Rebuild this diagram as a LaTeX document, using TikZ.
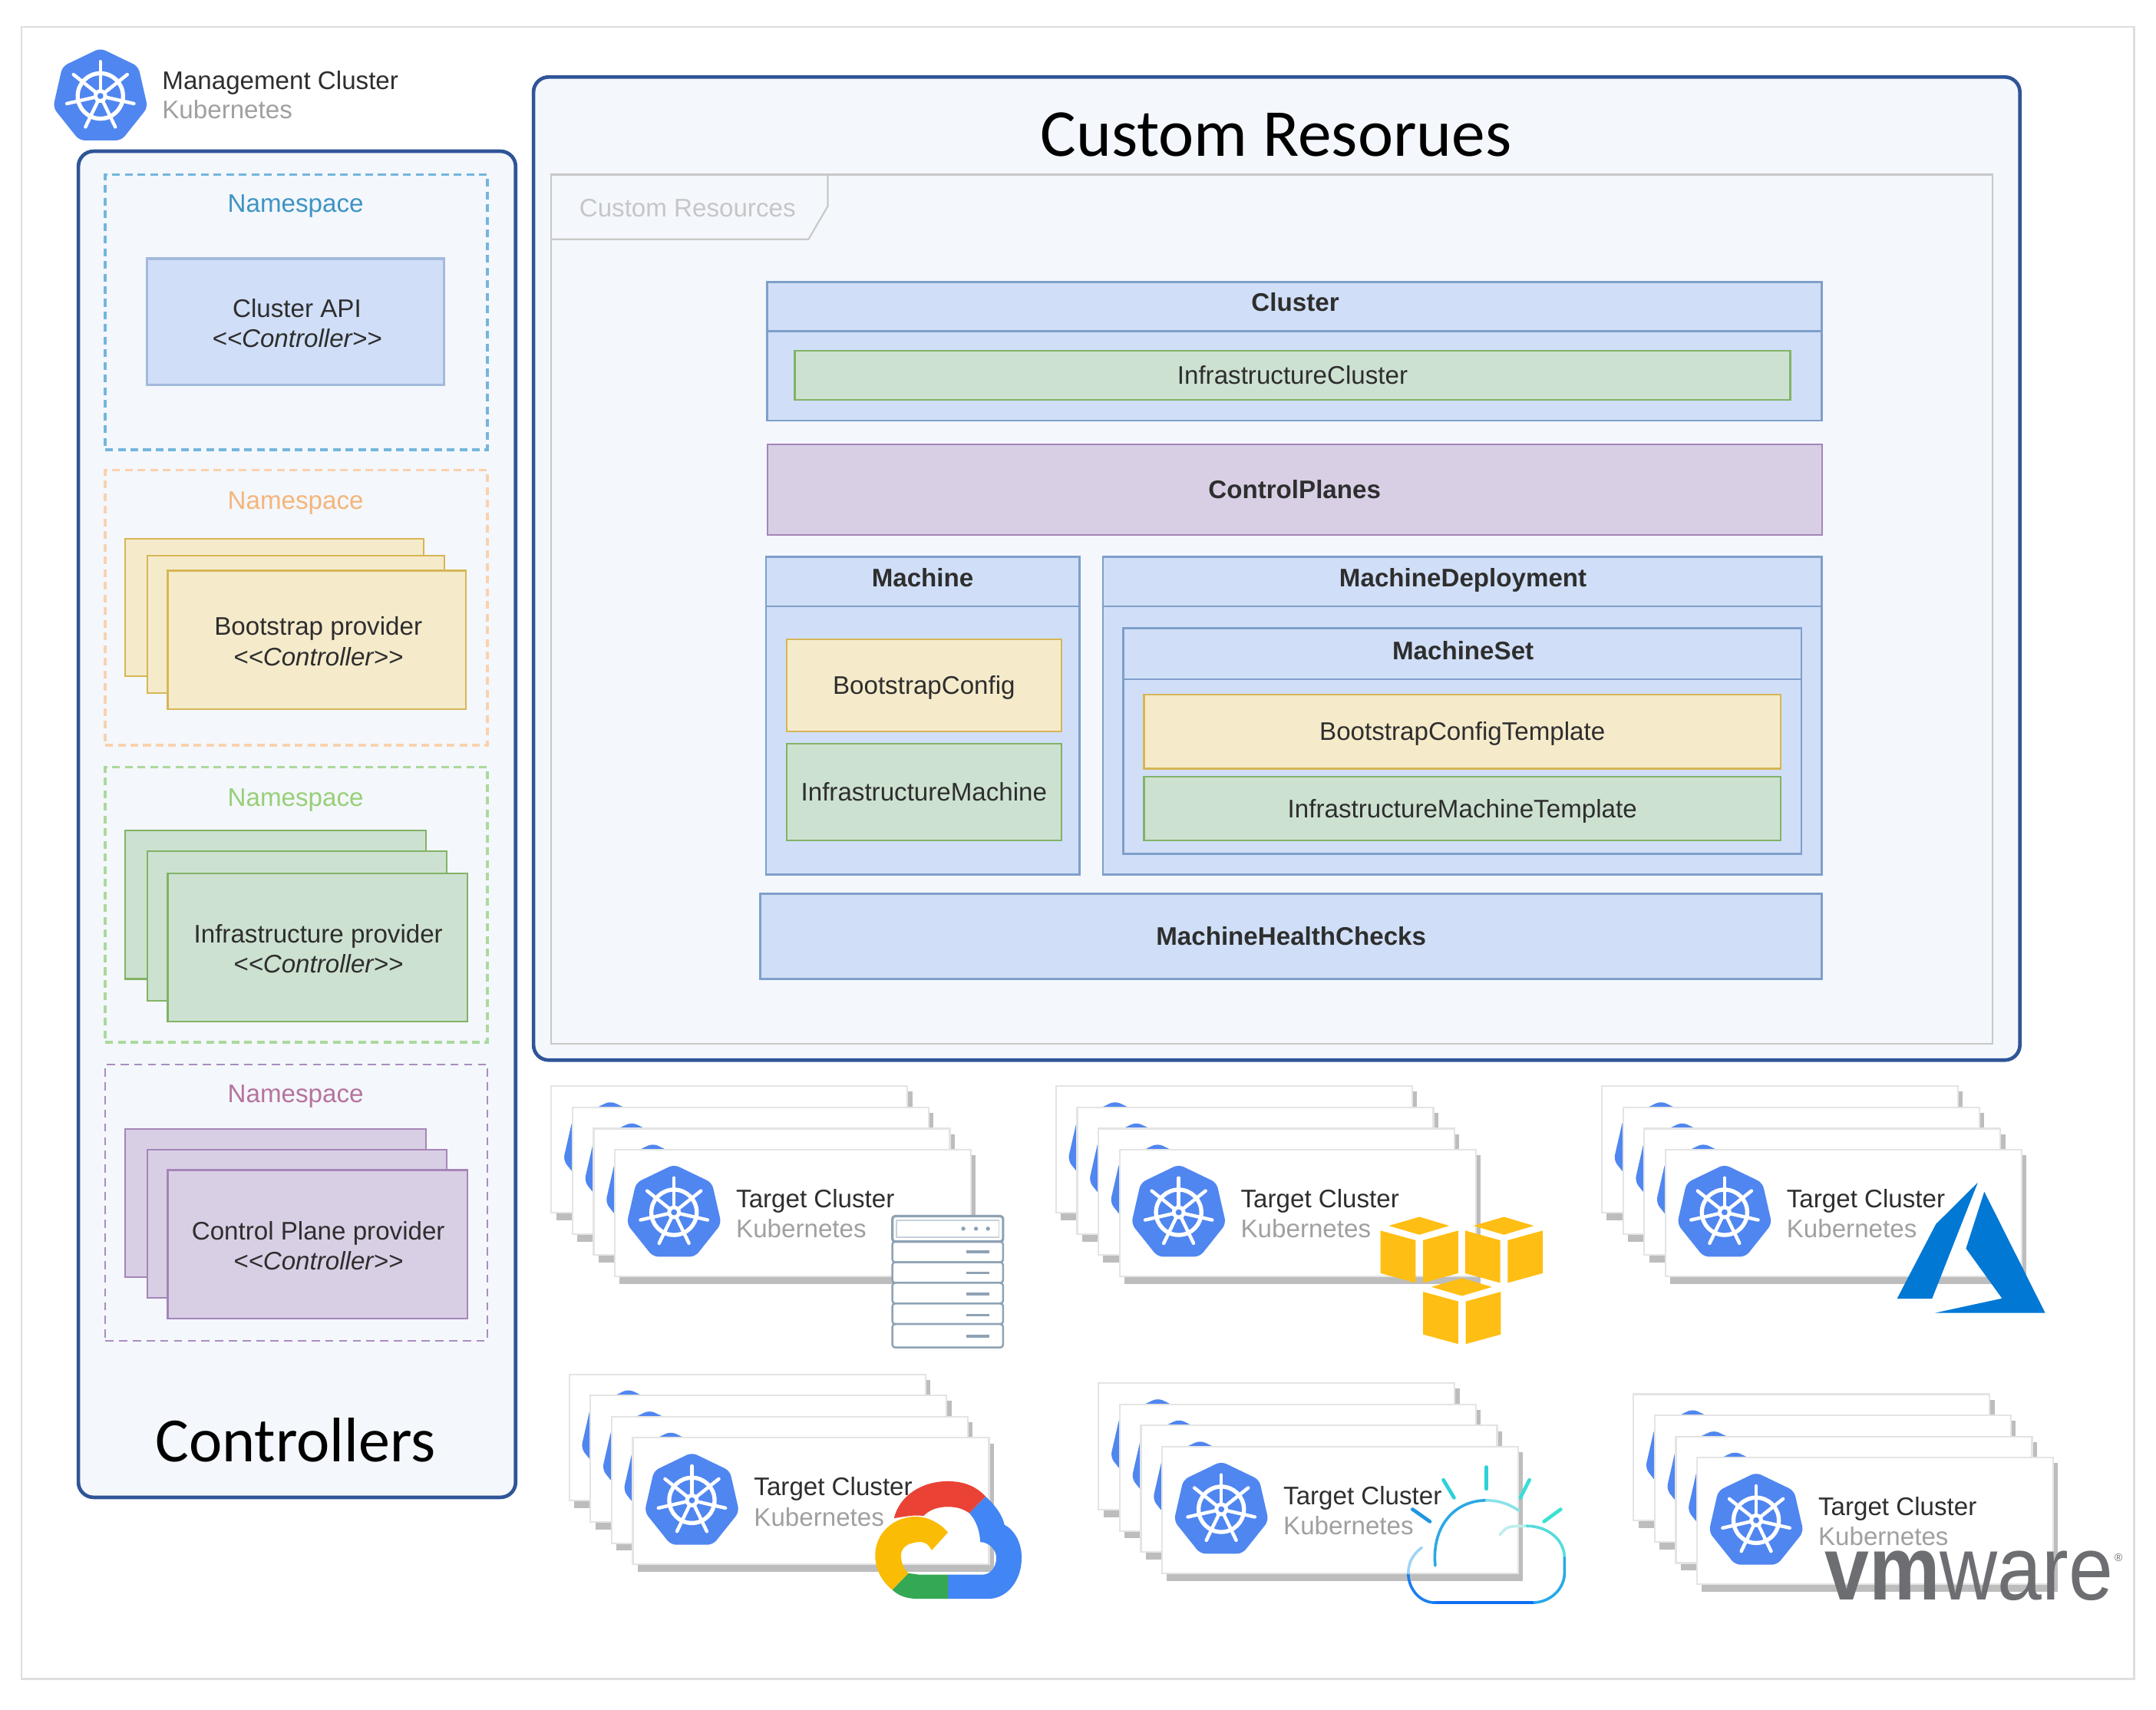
\documentclass[tikz,border=0pt]{standalone}
\usepackage{fontspec}
\setmainfont{Liberation Sans}
\newfontfamily\calfont{Carlito}
\definecolor{frameGrey}{HTML}{DEDEDE}
\definecolor{navy}{HTML}{2F5597}
\definecolor{paneFill}{HTML}{F4F7FC}
\definecolor{blueFill}{HTML}{D0DFF7}
\definecolor{blueLine}{HTML}{7F9FCB}
\definecolor{blueSoft}{HTML}{A3BADC}
\definecolor{yelFill}{HTML}{F5EBCB}
\definecolor{yelLine}{HTML}{D6B656}
\definecolor{grnFill}{HTML}{CDE1D0}
\definecolor{grnLine}{HTML}{82B366}
\definecolor{purFill}{HTML}{D9CFE5}
\definecolor{purLine}{HTML}{A585B8}
\definecolor{txt}{HTML}{2E2E2E}
\definecolor{kubeGrey}{HTML}{A0A0A0}
\definecolor{kubeBlue}{HTML}{5086F0}
\definecolor{shadowGrey}{HTML}{BDBDBD}
\definecolor{cardLine}{HTML}{E4E4E4}
\definecolor{rackLine}{HTML}{8EA2B4}
\definecolor{awsGold}{HTML}{FFBE13}
\definecolor{azureBlue}{HTML}{0078D4}
\definecolor{gRed}{HTML}{EA4335}
\definecolor{gBlue}{HTML}{4285F4}
\definecolor{gYellow}{HTML}{FBBC05}
\definecolor{gGreen}{HTML}{34A853}
\definecolor{vmGrey}{HTML}{6D6E71}
\definecolor{nsAline}{HTML}{74B6DC}
\definecolor{nsAtext}{HTML}{3D94C4}
\definecolor{nsBline}{HTML}{F9D2AE}
\definecolor{nsBtext}{HTML}{F5B57A}
\definecolor{nsCline}{HTML}{ABD99C}
\definecolor{nsCtext}{HTML}{97D077}
\definecolor{nsDline}{HTML}{A98DC0}
\definecolor{nsDtext}{HTML}{B5739D}
\newcommand\bx[7]{%
  \pgfmathsetmacro\bw{(#4-#2)*0.5}\pgfmathsetmacro\bh{(#5-#3)*0.5}%
  \node[#6,anchor=north west,minimum width=\bw pt,minimum height=\bh pt,inner sep=0pt,outer sep=0pt,text height=6.6pt,text depth=0pt] (#1) at (#2,#3) {#7};}
\newcommand\ctl[1]{#1\\\textit{<{}<Controller>{}>}}
\newcommand\clusterstack[3]{% name, x, y of the rearmost card
  \foreach \cardi in {0,1,2,3}{%
    \pgfmathsetmacro\cx{#2+15.4*\cardi}\pgfmathsetmacro\cy{#3+15.4*\cardi}%
    \fill[shadowGrey] (\cx+3.5,\cy+4) rectangle (\cx+262.5,\cy+97.5);
    \draw[cardbox] (\cx,\cy) rectangle (\cx+259,\cy+92);
    \pic at (\cx+43,\cy+46) {k8slogo};
  }
  \pgfmathsetmacro\tx{#2+46.2+88.2}\pgfmathsetmacro\tya{#3+46.2+42}\pgfmathsetmacro\tyb{#3+46.2+64}%
  \node[lbl,text=txt] (#1title) at (\tx,\tya) {Target Cluster};
  \node[lbl,text=kubeGrey] (#1sub) at (\tx,\tyb) {Kubernetes};
}
\tikzset{
  txtbase/.style={font=\fontsize{9.25}{11}\selectfont,text=txt},
  lbl/.style={txtbase,anchor=base west,inner sep=0pt,outer sep=0pt},
  capnode/.style={txtbase,inner sep=0pt,outer sep=0pt,text height=6.6pt,text depth=0pt},
  ctltext/.style={txtbase,inner sep=0pt,outer sep=0pt,align=center},
  boldcap/.style={capnode,font=\fontsize{9.25}{11}\selectfont\bfseries},
  pane/.style={txtbase,draw=navy,line width=1.3pt,fill=paneFill,rounded corners=5.5pt},
  nsbox/.style={txtbase,line width=1pt,dash pattern=on 2.8pt off 1.8pt},
  bluebox/.style={txtbase,draw=blueLine,line width=.7pt,fill=blueFill},
  softblue/.style={txtbase,draw=blueSoft,line width=1pt,fill=blueFill},
  yelbox/.style={txtbase,draw=yelLine,line width=.6pt,fill=yelFill},
  grnbox/.style={txtbase,draw=grnLine,line width=.6pt,fill=grnFill},
  purbox/.style={txtbase,draw=purLine,line width=.6pt,fill=purFill},
  cardbox/.style={draw=cardLine,line width=.6pt,fill=white},
  bigtitle/.style={font=\calfont\fontsize{24.4}{28}\selectfont,text=black},
  k8slogo/.pic={
    \fill[kubeBlue,rounded corners=2pt] (0,31.8) -- (-15.3,31.8) -- (-34.4,7.85) -- (-27.6,-22) -- (0,-35.3) -- (27.6,-22) -- (34.4,7.85) -- (15.3,31.8) -- cycle;
    \draw[white,line width=1.5pt] (0,-0.5) circle (16.5);
    \foreach \a in {90,141.43,192.86,244.29,295.71,347.14,38.57}{
      \draw[white,line width=1.25pt,line cap=round] (0,-0.5) -- ({25*cos(\a)},{-0.5-25*sin(\a)});
    }
    \fill[white] (0,-0.5) circle (5);
    \fill[kubeBlue] (0,-0.5) circle (2.2);
  },
  awscube/.pic={
    \fill[awsGold] (28.3,0) -- (50,6.5) -- (28.3,13) -- (6,6.5) -- cycle;
    \fill[awsGold] (0,10) -- (25.5,17) -- (25.5,48) -- (0,41) -- cycle;
    \fill[awsGold] (56.5,10) -- (31,17) -- (31,48) -- (56.5,41) -- cycle;
  }
}
\begin{document}
\begin{tikzpicture}[x=0.5pt,y=-0.5pt]
\useasboundingbox (0,0) rectangle (1568,1243.2);
\fill[white] (0,0) rectangle (1568,1243.2);
\draw[frameGrey,line width=.7pt] (15.5,19.5) rectangle (1552,1221);

% Management cluster
\pic at (73,70.3) {k8slogo};
\node[lbl] (mgmtTitle) at (118,64.8) {Management Cluster};
\node[lbl,text=kubeGrey] (mgmtSub) at (118,86) {Kubernetes};

% Controllers pane
\bx{controllersPane}{57}{110}{375}{1089}{pane}{}
\node[bigtitle,font=\calfont\fontsize{22.9}{28}\selectfont] (controllersTitle) at (215,1047.5) {Controllers};

\bx{nsA}{76.5}{127}{354.5}{327}{nsbox,draw=nsAline}{}
\node[capnode,text=nsAtext] (nsAlabel) at (215,148) {Namespace};
\bx{apiBox}{107}{188}{323}{280}{softblue}{}
\node[ctltext] (apiText) at (216,235) {\ctl{Cluster API}};

\bx{nsB}{76.5}{342}{354.5}{542}{nsbox,draw=nsBline}{}
\node[capnode,text=nsBtext] (nsBlabel) at (215,364) {Namespace};
\bx{bootA}{91}{392}{308}{492}{yelbox}{}
\bx{bootB}{107}{404}{323}{504}{yelbox}{}
\bx{bootC}{122}{415}{339}{516}{yelbox}{}
\node[ctltext] (bootText) at (231.5,466.5) {\ctl{Bootstrap provider}};

\bx{nsC}{76.5}{558}{354.5}{758}{nsbox,draw=nsCline}{}
\node[capnode,text=nsCtext] (nsClabel) at (215,580) {Namespace};
\bx{infA}{91}{604}{310}{712}{grnbox}{}
\bx{infB}{107}{619}{325}{728}{grnbox}{}
\bx{infC}{122}{635}{340}{743}{grnbox}{}
\node[ctltext] (infText) at (231.5,690) {\ctl{Infrastructure provider}};

\bx{nsD}{76.5}{774}{354.5}{975}{txtbase,line width=.6pt,dash pattern=on 3pt off 2pt,draw=nsDline}{}
\node[capnode,text=nsDtext] (nsDlabel) at (215,795) {Namespace};
\bx{cpA}{91}{821}{310}{929}{purbox}{}
\bx{cpB}{107}{836}{325}{944}{purbox}{}
\bx{cpC}{122}{851}{340}{959}{purbox}{}
\node[ctltext] (cpText) at (231.5,906) {\ctl{Control Plane provider}};

% Custom resources pane
\bx{crPane}{388}{56}{1469}{771}{pane}{}
\node[bigtitle] (crTitle) at (928,98) {Custom Resorues};
\bx{crFrame}{401}{127}{1449}{759}{draw=frameGrey!90!black,line width=.6pt,fill=paneFill}{}
\draw[frameGrey!90!black,line width=.6pt] (401,174) -- (588,174) -- (602,150) -- (602,127);
\node[capnode,text=kubeGrey!60] (crTab) at (500,151) {Custom Resources};

\bx{clusterBox}{558}{205}{1325}{306}{bluebox}{}
\draw[blueLine,line width=.7pt] (558,241) -- (1325,241);
\node[boldcap] (clusterCap) at (942,220) {Cluster};
\bx{infraCluster}{578}{255}{1302}{291}{grnbox}{InfrastructureCluster}

\bx{cpBox}{558}{323}{1325}{389}{purbox,font=\fontsize{9.25}{11}\selectfont\bfseries}{ControlPlanes}

\bx{machineBox}{557}{405}{785}{636}{bluebox}{}
\draw[blueLine,line width=.7pt] (557,441) -- (785,441);
\node[boldcap] (machineCap) at (671,420) {Machine};
\bx{bootCfg}{572}{465}{772}{532}{yelbox}{BootstrapConfig}
\bx{infraMachine}{572}{541}{772}{611}{grnbox}{InfrastructureMachine}

\bx{mdBox}{802}{405}{1325}{636}{bluebox}{}
\draw[blueLine,line width=.7pt] (802,441) -- (1325,441);
\node[boldcap] (mdCap) at (1064,420) {MachineDeployment};
\bx{msBox}{817}{457}{1310}{621}{bluebox}{}
\draw[blueLine,line width=.7pt] (817,494) -- (1310,494);
\node[boldcap] (msCap) at (1064,473) {MachineSet};
\bx{bootTpl}{832}{505}{1295}{559}{yelbox}{BootstrapConfigTemplate}
\bx{infraTpl}{832}{565}{1295}{611}{grnbox}{InfrastructureMachineTemplate}

\bx{mhcBox}{553}{650}{1325}{712}{bluebox,font=\fontsize{9.25}{11}\selectfont\bfseries}{MachineHealthChecks}

% Target cluster stacks
\clusterstack{onprem}{401}{790}
\clusterstack{aws}{768}{790}
\clusterstack{azure}{1165}{790}
\clusterstack{gcp}{414}{999.5}
\clusterstack{ibm}{799}{1006}
\clusterstack{vmw}{1188}{1014}

% Server rack
\foreach \ya/\yb in {903/918,918/933,933/948,948/963,963/980}{
  \draw[rackLine,line width=.7pt,fill=white,rounded corners=1pt] (649,\ya) rectangle (729.5,\yb);
}
\draw[rackLine,line width=.9pt,fill=white,rounded corners=1pt] (649,884.5) rectangle (729.5,903);
\draw[rackLine!50,line width=.5pt] (652,887.5) rectangle (726.5,900);
\foreach \xd in {700.6,709.8,718.5}{\fill[rackLine] (\xd,893.6) circle (1.5);}
\foreach \ym in {910.4,925.7,941.1,956.4,971.7}{\draw[rackLine,line width=1pt] (702.8,\ym) -- (719.7,\ym);}

% AWS
\pic at (1004,885) {awscube};
\pic at (1065.5,885) {awscube};
\pic at (1035,929.5) {awscube};

% Azure
\fill[azureBlue] (1438.4,860) -- (1407.9,890.3) -- (1379.6,944.6) -- (1405.1,944.6) -- cycle;
\fill[azureBlue] (1443.1,866.7) -- (1429.8,908) -- (1456,944.3) -- (1407.1,954.9) -- (1487.4,954.9) -- cycle;

% Google Cloud
\fill[gRed] (650.2,1104.2) .. controls (654,1088) and (670,1077.3) .. (689.4,1077.3) .. controls (701,1077.3) and (710,1081) .. (716.8,1088.4) -- (705,1100.5) .. controls (700,1097) and (695,1095.9) .. (689.4,1095.9) .. controls (682,1095.9) and (676,1098) .. (671.8,1102.4) .. controls (664,1102) .. (650.2,1104.2) -- cycle;
\fill[gBlue] (716.8,1088.4) .. controls (724,1095) and (729,1102) .. (730.5,1108.9) .. controls (738,1113) and (743,1122) .. (743,1133) .. controls (743,1150) and (732,1162.8) .. (718.8,1162.8) -- (689.4,1162.8) -- (689.4,1145.2) -- (714.8,1145.2) .. controls (720,1145.2) and (724.6,1140) .. (724.6,1133) .. controls (724.6,1127) and (719,1121.5) .. (712.9,1121.5) .. controls (712.5,1113) and (710,1106) .. (705,1100.5) -- cycle;
\fill[gYellow] (665.9,1103) .. controls (675,1103) and (684,1108) .. (689.4,1114.5) -- (677.6,1127.5) .. controls (676,1124) and (673,1121.5) .. (669.8,1121.5) .. controls (661,1121.5) and (655.3,1125) .. (655.3,1131.2) .. controls (655.3,1136) and (657,1141) .. (660.8,1144.2) -- (649,1156.3) .. controls (641,1150) and (636.5,1141) .. (636.5,1131.2) .. controls (636.5,1115) and (650,1103) .. (665.9,1103) -- cycle;
\fill[gGreen] (660.8,1144.2) .. controls (664,1145) .. (668,1145.2) -- (689.4,1145.2) -- (689.4,1162.8) -- (668,1162.8) .. controls (660,1162.8) and (654,1161) .. (649,1156.3) -- cycle;

% IBM Cloud
\begin{scope}[line width=1pt,line cap=round]
\draw[color={rgb,255:red,43;green,168;blue,228}] (1043.8,1138.7) .. controls (1041,1110) and (1058,1091.2) .. (1081,1091.2);
\draw[color={rgb,255:red,140;green,225;blue,232}] (1081,1091.2) .. controls (1090,1091.2) and (1098,1094) .. (1104.5,1098.6);
\draw[color={rgb,255:red,190;green,238;blue,238}] (1090.8,1116.3) .. controls (1096,1110) .. (1110.4,1109.8);
\draw[color={rgb,255:red,85;green,220;blue,220}] (1110.4,1109.8) .. controls (1126,1110) and (1137.8,1120) .. (1137.8,1133);
\draw[color={rgb,255:red,40;green,168;blue,232}] (1137.8,1133) -- (1137.8,1144.2) .. controls (1137.8,1155) and (1128,1165.6) .. (1114.3,1165.6);
\draw[color={rgb,255:red,15;green,111;blue,245},line width=1.3pt] (1114.3,1165.6) -- (1043.8,1165.6);
\draw[color={rgb,255:red,26;green,126;blue,240}] (1043.8,1165.6) .. controls (1032,1165.6) and (1024.2,1155) .. (1024.2,1144.2);
\draw[color={rgb,255:red,160;green,212;blue,245}] (1024.2,1144.2) .. controls (1024.2,1136) and (1028,1130) .. (1034,1125.6);
\draw[color={rgb,255:red,47;green,208;blue,216},line width=1.3pt] (1081,1067) -- (1081,1082.8);
\draw[color={rgb,255:red,47;green,208;blue,216},line width=1.3pt] (1049.7,1076.3) -- (1057.5,1089.3);
\draw[color={rgb,255:red,60;green,220;blue,216},line width=1.3pt] (1112.3,1076.3) -- (1105.7,1089.3);
\draw[color={rgb,255:red,30;green,150;blue,225},line width=1.3pt] (1027.3,1097.7) -- (1039.9,1106.6);
\draw[color={rgb,255:red,60;green,225;blue,210},line width=1.3pt] (1135,1097.7) -- (1122.9,1106.6);
\end{scope}

% VMware
\node[anchor=base west,inner sep=0pt,outer sep=0pt,text=vmGrey] (vmwareMark) at (1327,1163.5) {\scalebox{.88}[1]{\fontsize{33}{33}\selectfont\textbf{vm}ware}};
\node[inner sep=0pt,outer sep=0pt,text=vmGrey,font=\fontsize{4}{4}\selectfont] (vmwareReg) at (1540.7,1133) {®};
\end{tikzpicture}
\end{document}
